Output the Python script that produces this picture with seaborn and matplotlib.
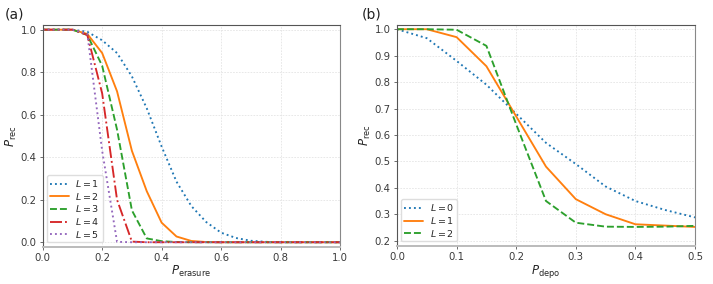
import matplotlib
matplotlib.use("Agg")
import matplotlib.pyplot as plt
import numpy as np
import pandas as pd
import seaborn as sns


# -------------------------------------------------------------------------------------------
# Data

p_erasure = [0.0, 0.05, 0.1, 0.15, 0.2, 0.25, 0.3, 0.35, 0.4, 0.45, 0.5,
             0.55, 0.6, 0.65, 0.7, 0.75, 0.8, 0.85, 0.9, 0.95, 1.0]
rec_a_L1 = [1.0, 1.0, 1.0, 0.99, 0.95, 0.89, 0.78, 0.63, 0.45, 0.285, 0.17,
            0.095, 0.045, 0.02, 0.007, 0.002, 0.0, 0.0, 0.0, 0.0, 0.0]
rec_a_L2 = [1.0, 1.0, 1.0, 0.98, 0.89, 0.71, 0.43, 0.24, 0.092, 0.027, 0.006,
            0.001, 0.0, 0.0, 0.0, 0.0, 0.0, 0.0, 0.0, 0.0, 0.0]
rec_a_L3 = [1.0, 1.0, 1.0, 0.975, 0.83, 0.53, 0.15, 0.018, 0.005, 0.001, 0.0,
            0.0, 0.0, 0.0, 0.0, 0.0, 0.0, 0.0, 0.0, 0.0, 0.0]
rec_a_L4 = [1.0, 1.0, 1.0, 0.975, 0.70, 0.20, 0.003, 0.0, 0.0, 0.0, 0.0,
            0.0, 0.0, 0.0, 0.0, 0.0, 0.0, 0.0, 0.0, 0.0, 0.0]
rec_a_L5 = [1.0, 1.0, 1.0, 0.98, 0.43, 0.002, 0.0, 0.0, 0.0, 0.0, 0.0,
            0.0, 0.0, 0.0, 0.0, 0.0, 0.0, 0.0, 0.0, 0.0, 0.0]

p_depo = [0.0, 0.05, 0.1, 0.15, 0.2, 0.25, 0.3, 0.35, 0.4, 0.45, 0.5]
rec_b_L0 = [1.0, 0.966, 0.88, 0.79, 0.68, 0.57, 0.49, 0.405, 0.35, 0.316, 0.288]
rec_b_L1 = [1.0, 1.0, 0.97, 0.86, 0.67, 0.48, 0.357, 0.30, 0.262, 0.257, 0.252]
rec_b_L2 = [1.0, 1.0, 0.998, 0.937, 0.64, 0.35, 0.268, 0.253, 0.252, 0.253, 0.256]

labels_a = ["$L=1$", "$L=2$", "$L=3$", "$L=4$", "$L=5$"]
labels_b = ["$L=0$", "$L=1$", "$L=2$"]

xticks_a = [0.0, 0.2, 0.4, 0.6, 0.8, 1.0]
yticks_a = [0.0, 0.2, 0.4, 0.6, 0.8, 1.0]
xticks_b = [0.0, 0.1, 0.2, 0.3, 0.4, 0.5]
yticks_b = [0.2, 0.3, 0.4, 0.5, 0.6, 0.7, 0.8, 0.9, 1.0]


# -------------------------------------------------------------------------------------------
# Style

sns.set_style("whitegrid")
plt.rcParams["font.family"] = ["DejaVu Sans"]
plt.rcParams["font.size"] = 7.5

colors = sns.color_palette("tab10")
styles_a = [":", "-", "--", "-.", ":"]
styles_b = [":", "-", "--"]

fig = plt.figure(figsize=(7.13, 2.84), dpi=100)
ax_a = fig.add_axes([0.0599, 0.1313, 0.417, 0.7807])
ax_b = fig.add_axes([0.5568, 0.1349, 0.418, 0.7771])


def style_axes(ax):
    ax.grid(True, color="#e4e4e4", linewidth=0.6, linestyle=(0, (2, 1.5)))
    for side in ["left", "top"]:
        ax.spines[side].set_color("#555555")
        ax.spines[side].set_linewidth(0.8)
    ax.spines["right"].set_color("#888888")
    ax.spines["right"].set_linewidth(0.8)
    ax.spines["bottom"].set_color("#bbbbbb")
    ax.spines["bottom"].set_linewidth(1.4)
    ax.tick_params(axis="both", which="both", direction="out", length=2.5,
                   width=0.6, color="#555555", labelsize=7.3,
                   labelcolor="#3a3a3a", pad=2, bottom=True, left=True)


def add_legend(ax):
    ax.legend(loc="lower left", fontsize=6.8, handlelength=2.0,
              frameon=True, framealpha=1, edgecolor="#dddddd",
              borderpad=0.3, labelspacing=0.18, handletextpad=0.7,
              borderaxespad=0.45)


# -------------------------------------------------------------------------------------------
# Panel (a)

for vals, lab, ls, c in zip([rec_a_L1, rec_a_L2, rec_a_L3, rec_a_L4, rec_a_L5],
                            labels_a, styles_a, colors[:5]):
    sns.lineplot(x=p_erasure, y=vals, ax=ax_a, label=lab, color=c,
                 linestyle=ls, linewidth=1.35)

ax_a.set_xlim(0, 1)
ax_a.set_ylim(-0.021, 1.022)
ax_a.set_xticks(xticks_a)
ax_a.set_yticks(yticks_a)
ax_a.set_xlabel("$P_{\\mathrm{erasure}}$", fontsize=8.5, labelpad=0.5)
ax_a.set_ylabel("$P_{\\mathrm{rec}}$", fontsize=8.5, labelpad=1)
style_axes(ax_a)
add_legend(ax_a)
fig.text(0.007, 0.935, "(a)", fontsize=10, color="#222222")


# -------------------------------------------------------------------------------------------
# Panel (b)

for vals, lab, ls, c in zip([rec_b_L0, rec_b_L1, rec_b_L2],
                            labels_b, styles_b, colors[:3]):
    sns.lineplot(x=p_depo, y=vals, ax=ax_b, label=lab, color=c,
                 linestyle=ls, linewidth=1.35)

ax_b.set_xlim(0, 0.5)
ax_b.set_ylim(0.181, 1.016)
ax_b.set_xticks(xticks_b)
ax_b.set_yticks(yticks_b)
ax_b.set_xlabel("$P_{\\mathrm{depo}}$", fontsize=8.5, labelpad=0.5)
ax_b.set_ylabel("$P_{\\mathrm{rec}}$", fontsize=8.5, labelpad=1)
style_axes(ax_b)
add_legend(ax_b)
fig.text(0.507, 0.935, "(b)", fontsize=10, color="#222222")

fig.savefig("out.png", dpi=100)
